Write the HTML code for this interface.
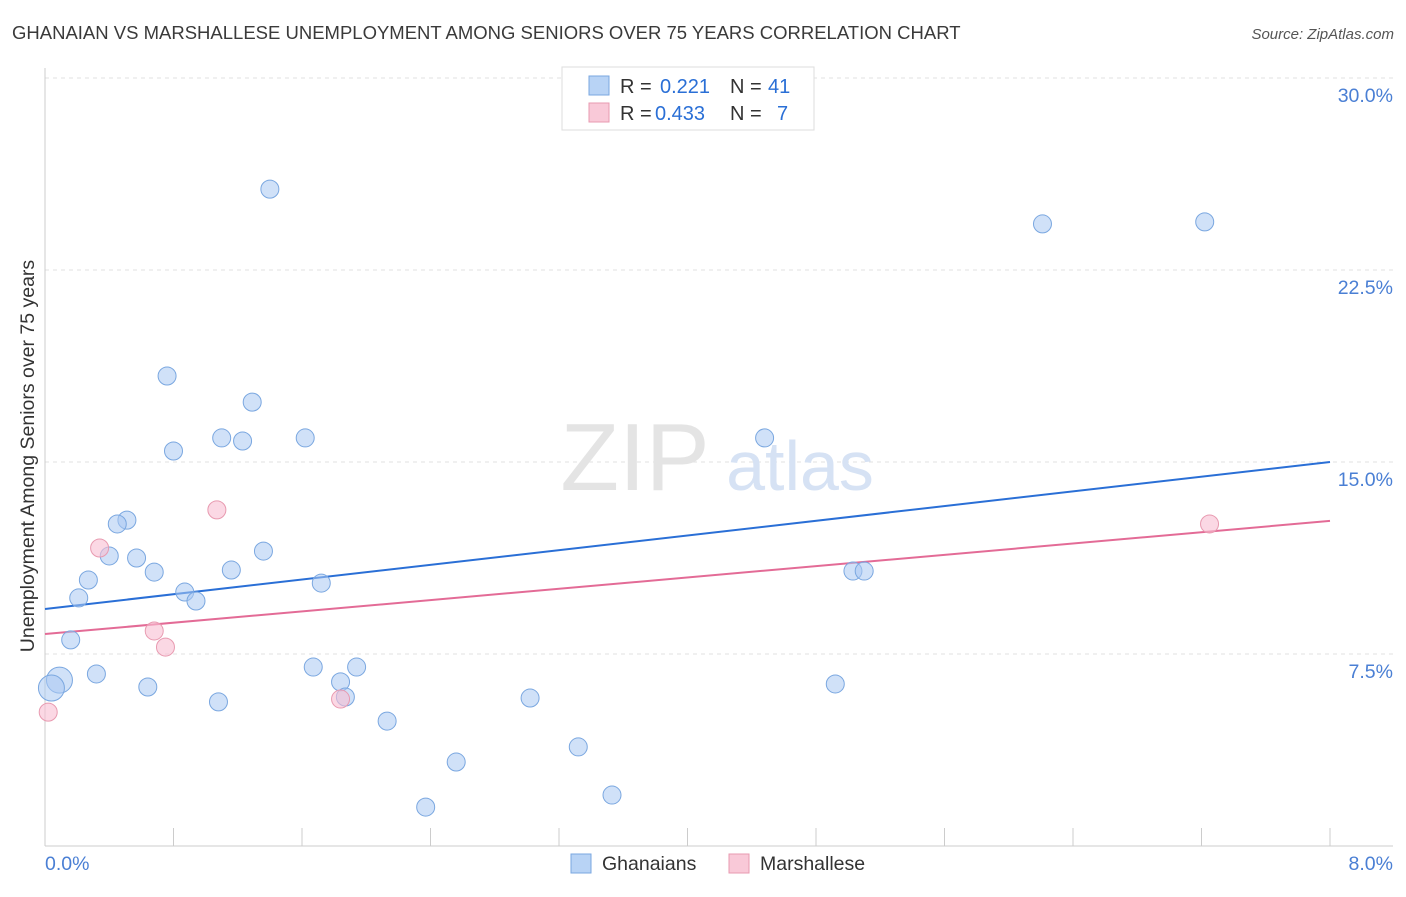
<!DOCTYPE html>
<html><head><meta charset="utf-8">
<style>
body{margin:0;background:#fff;font-family:"Liberation Sans",sans-serif;}
svg text{font-family:"Liberation Sans",sans-serif;}
</style></head>
<body>
<svg id="chart" width="1406" height="892" xmlns="http://www.w3.org/2000/svg">
<text x="12" y="39" font-size="18.5" fill="#3a3a3a">GHANAIAN VS MARSHALLESE UNEMPLOYMENT AMONG SENIORS OVER 75 YEARS CORRELATION CHART</text>
<text x="1394" y="39" font-size="15" fill="#555" text-anchor="end" font-style="italic">Source: ZipAtlas.com</text>
<g id="grid"></g>
<text x="635" y="490" font-size="96" fill="#e4e4e4" font-family="Liberation Serif" text-anchor="middle">ZIP</text>
<text x="800" y="490" font-size="70" fill="#d6e2f4" text-anchor="middle">atlas</text>
<g id="lines"></g>
<g id="points"></g>
<text transform="translate(34,456) rotate(-90)" font-size="19.5" fill="#333" text-anchor="middle">Unemployment Among Seniors over 75 years</text>
<text x="45" y="870" font-size="19.5" fill="#4a7fd4">0.0%</text>
<text x="1393" y="870" font-size="19.5" fill="#4a7fd4" text-anchor="end">8.0%</text>
<g>
<rect x="562" y="67" width="252" height="63" fill="#fff" stroke="#ddd"/>
<rect x="589" y="76" width="20" height="19" fill="#b8d3f5" stroke="#7aa7e0"/>
<rect x="589" y="103" width="20" height="19" fill="#f9c9d8" stroke="#e89ab0"/>
<text x="620" y="93" font-size="20" fill="#333">R =</text>
<text x="660" y="93" font-size="20" fill="#2a6fd6">0.221</text>
<text x="730" y="93" font-size="20" fill="#333">N =</text>
<text x="768" y="93" font-size="20" fill="#2a6fd6">41</text>
<text x="620" y="120" font-size="20" fill="#333">R =</text>
<text x="655" y="120" font-size="20" fill="#2a6fd6">0.433</text>
<text x="730" y="120" font-size="20" fill="#333">N =</text>
<text x="777" y="120" font-size="20" fill="#2a6fd6">7</text>
</g>
<g>
<rect x="571" y="854" width="20" height="19" fill="#b8d3f5" stroke="#7aa7e0"/>
<text x="602" y="870" font-size="19.5" fill="#333">Ghanaians</text>
<rect x="729" y="854" width="20" height="19" fill="#f9c9d8" stroke="#e89ab0"/>
<text x="760" y="870" font-size="19.5" fill="#333">Marshallese</text>
</g>
</svg>
<script>
const yTicks=[7.5,15,22.5,30];
const xTickCount=10;
const blueX=[1.40,6.21,7.22,0.76,1.29,1.10,1.23,1.62,0.80,4.48,0.51,0.45,0.40,0.57,1.36,0.68,1.16,0.27,0.21,0.87,0.94,1.72,5.03,5.10,0.16,0.32,0.09,0.04,0.64,1.67,1.94,1.84,1.87,1.08,3.02,4.92,2.13,3.32,2.56,3.53,2.37];
const blueY=[25.66,24.30,24.38,18.36,17.34,15.94,15.82,15.94,15.43,15.94,12.73,12.58,11.33,11.25,11.52,10.70,10.78,10.39,9.69,9.92,9.57,10.27,10.74,10.74,8.05,6.72,6.48,6.17,6.21,6.99,6.99,6.41,5.82,5.63,5.78,6.33,4.88,3.87,3.28,1.99,1.52];
const blueBig=[26,27];
const pinkX=[0.02,0.34,1.07,0.68,0.75,1.84,7.25];
const pinkY=[5.23,11.64,13.13,8.40,7.77,5.74,12.58];
const blueLine=[9.26,15.0];
const pinkLine=[8.28,12.70];
const NS="http://www.w3.org/2000/svg";
const X=v=>45+v/8*1285, Y=v=>846-v/30*768;
function mk(t,a,p){const e=document.createElementNS(NS,t);for(const k in a)e.setAttribute(k,a[k]);p.appendChild(e);return e;}
const grid=document.getElementById('grid');
yTicks.forEach(t=>{
 const l=mk('line',{x1:45,x2:1393,y1:Y(t),y2:Y(t),stroke:'#e2e2e2','stroke-dasharray':'4,4'},grid);
 
 
 const tx=mk('text',{x:1393,y:Y(t)+24,'font-size':19.5,fill:'#4a7fd4','text-anchor':'end'},grid);
 tx.textContent=t.toFixed(1)+'%';
 
 
});
const ax=mk('line',{x1:45,x2:45,y1:68,y2:846,stroke:'#ccc'},grid);


const bx=mk('line',{x1:45,x2:1393,y1:846,y2:846,stroke:'#ccc'},grid);


for(let i=1;i<=xTickCount;i++){const x=X(i*8/xTickCount);
 const t=mk('line',{x1:x,x2:x,y1:828,y2:846,stroke:'#ccc'},grid);
 
 }
const lines=document.getElementById('lines');
const bl=mk('line',{x1:X(0),y1:Y(blueLine[0]),x2:X(8),y2:Y(blueLine[1]),stroke:'#2a6fd6','stroke-width':2},lines);


const pl=mk('line',{x1:X(0),y1:Y(pinkLine[0]),x2:X(8),y2:Y(pinkLine[1]),stroke:'#e36b96','stroke-width':2},lines);


const pts=document.getElementById('points');
blueX.forEach((v,i)=>{
 const c=mk('circle',{cx:X(v),cy:Y(blueY[i]),r:blueBig.includes(i)?13:9,fill:'rgba(170,200,242,0.55)',stroke:'#7aa7e0','stroke-width':1},pts);
 
 
});
pinkX.forEach((v,i)=>{
 const c=mk('circle',{cx:X(v),cy:Y(pinkY[i]),r:9,fill:'rgba(248,190,210,0.6)',stroke:'#e89ab0','stroke-width':1},pts);
 
 
});
</script>
</body></html>
